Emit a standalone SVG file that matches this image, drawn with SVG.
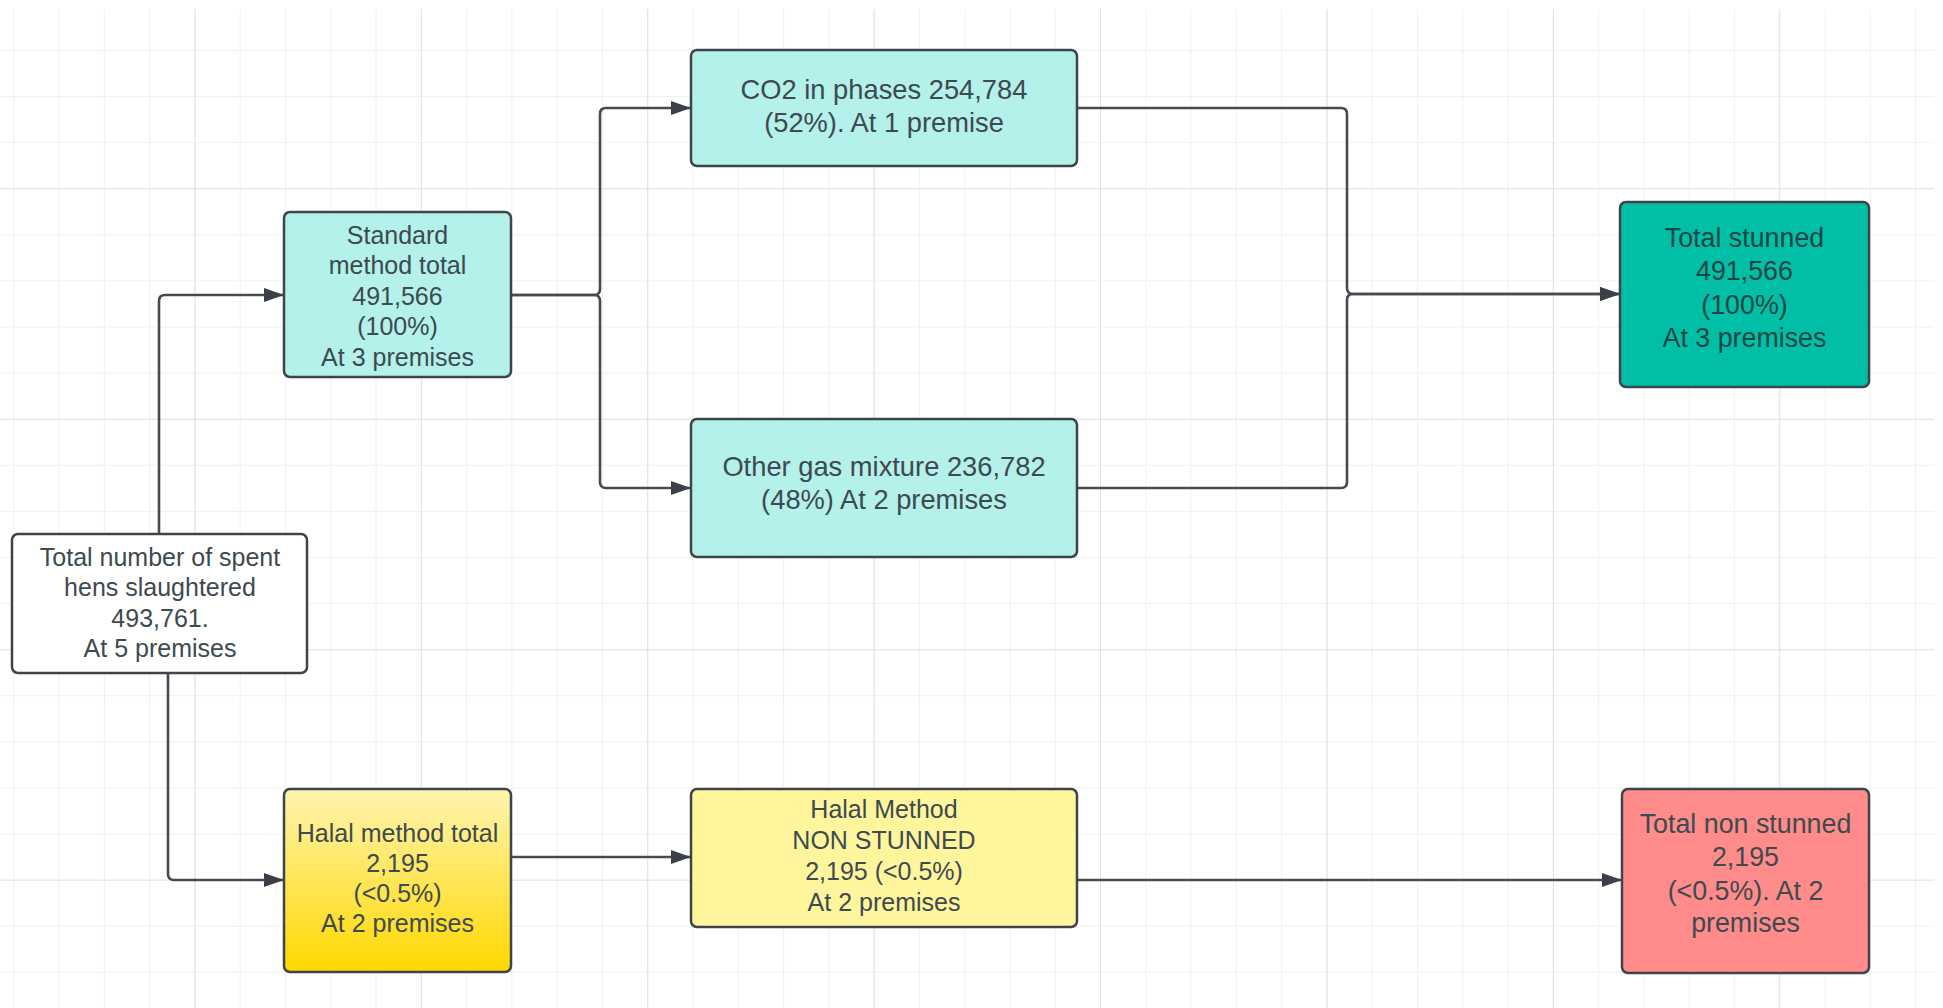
<svg xmlns="http://www.w3.org/2000/svg" width="1943" height="1008" viewBox="0 0 1943 1008">
<defs>
  <pattern id="minor" x="13.3" y="50" width="45.28" height="46.09" patternUnits="userSpaceOnUse">
    <path d="M0,0 V46.09 M0,0 H45.28" fill="none" stroke="#ebebeb" stroke-width="1.5"/>
  </pattern>
  <pattern id="major" x="194.4" y="188.3" width="226.4" height="230.45" patternUnits="userSpaceOnUse">
    <path d="M0,0 V230.45 M0,0 H226.4" fill="none" stroke="#dedede" stroke-width="1.6"/>
  </pattern>
  <linearGradient id="halalGrad" x1="0" y1="0" x2="0" y2="1">
    <stop offset="0" stop-color="#fff4b0"/>
    <stop offset="1" stop-color="#ffd800"/>
  </linearGradient>
  <marker id="arrow" markerUnits="userSpaceOnUse" markerWidth="20" markerHeight="16" viewBox="0 0 20 16" refX="20" refY="8" orient="auto">
    <path d="M0,1 L20,8 L0,15 Z" fill="#3b4048"/>
  </marker>
  <style>
    .box { stroke: #3e444b; stroke-width: 2.5; }
    .conn { fill: none; stroke: #464b52; stroke-width: 2.6; }
    .t { font-family: "Liberation Sans", Arial, sans-serif; text-anchor: middle; fill: #3d4a4f; }
    .s25 { font-size: 25px; }
    .s27 { font-size: 27.3px; }
    .s268 { font-size: 26.8px; }
  </style>
</defs>
<rect x="0" y="0" width="1943" height="1008" fill="#ffffff"/>
<rect x="0" y="9" width="1934" height="999" fill="url(#minor)"/>
<rect x="0" y="9" width="1934" height="999" fill="url(#major)"/>

<g id="connectors">
  <path class="conn" d="M159,534 V301 Q159,295 165,295 H284" marker-end="url(#arrow)"/>
  <path class="conn" d="M168,673 V874 Q168,880 174,880 H284" marker-end="url(#arrow)"/>
  <path class="conn" d="M511,295 H594 Q600,295 600,289 V114 Q600,108 606,108 H691" marker-end="url(#arrow)"/>
  <path class="conn" d="M511,295 H594 Q600,295 600,301 V482 Q600,488 606,488 H691" marker-end="url(#arrow)"/>
  <path class="conn" d="M1077,108 H1341 Q1347,108 1347,114 V288 Q1347,294 1353,294 H1620" marker-end="url(#arrow)"/>
  <path class="conn" d="M1077,488 H1341 Q1347,488 1347,482 V300 Q1347,294 1353,294 H1620" marker-end="url(#arrow)"/>
  <path class="conn" d="M511,857 H691" marker-end="url(#arrow)"/>
  <path class="conn" d="M1077,880 H1622" marker-end="url(#arrow)"/>
</g>

<g id="total">
  <rect class="box" x="12" y="534" width="295" height="139" rx="6" fill="#ffffff"/>
  <text class="t s25" x="160" y="565.5">Total number of spent</text>
  <text class="t s25" x="160" y="596">hens slaughtered</text>
  <text class="t s25" x="160" y="627">493,761.</text>
  <text class="t s25" x="160" y="657">At 5 premises</text>
</g>

<g id="standard">
  <rect class="box" x="284" y="212" width="227" height="165" rx="6" fill="#b3f1ea"/>
  <text class="t s25" x="397.5" y="243.5">Standard</text>
  <text class="t s25" x="397.5" y="274">method total</text>
  <text class="t s25" x="397.5" y="304.5">491,566</text>
  <text class="t s25" x="397.5" y="335">(100%)</text>
  <text class="t s25" x="397.5" y="366">At 3 premises</text>
</g>

<g id="co2">
  <rect class="box" x="691" y="50" width="386" height="116" rx="6" fill="#b3f1ea"/>
  <text class="t s27" x="884" y="99">CO2 in phases 254,784</text>
  <text class="t s27" x="884" y="132">(52%). At 1 premise</text>
</g>

<g id="othergas">
  <rect class="box" x="691" y="419" width="386" height="138" rx="6" fill="#b3f1ea"/>
  <text class="t s27" x="884" y="476">Other gas mixture 236,782</text>
  <text class="t s27" x="884" y="509">(48%) At 2 premises</text>
</g>

<g id="stunned">
  <rect class="box" x="1620" y="202" width="249" height="185" rx="6" fill="#00bfa6"/>
  <text class="t s268" x="1744.5" y="246.5" style="fill:#1e4645">Total stunned</text>
  <text class="t s268" x="1744.5" y="280" style="fill:#1e4645">491,566</text>
  <text class="t s268" x="1744.5" y="313.5" style="fill:#1e4645">(100%)</text>
  <text class="t s268" x="1744.5" y="347" style="fill:#1e4645">At 3 premises</text>
</g>

<g id="halaltotal">
  <rect class="box" x="284" y="789" width="227" height="183" rx="6" fill="url(#halalGrad)"/>
  <text class="t s25" x="397.5" y="842">Halal method total</text>
  <text class="t s25" x="397.5" y="872">2,195</text>
  <text class="t s25" x="397.5" y="902">(&lt;0.5%)</text>
  <text class="t s25" x="397.5" y="932">At 2 premises</text>
</g>

<g id="halalnonstunned">
  <rect class="box" x="691" y="789" width="386" height="138" rx="6" fill="#fff59d"/>
  <text class="t s25" x="884" y="818">Halal Method</text>
  <text class="t s25" x="884" y="849">NON STUNNED</text>
  <text class="t s25" x="884" y="879.5">2,195 (&lt;0.5%)</text>
  <text class="t s25" x="884" y="910.5">At 2 premises</text>
</g>

<g id="nonstunned">
  <rect class="box" x="1622" y="789" width="247" height="184" rx="6" fill="#ff8b8b"/>
  <text class="t s268" x="1745.5" y="832.5">Total non stunned</text>
  <text class="t s268" x="1745.5" y="866">2,195</text>
  <text class="t s268" x="1745.5" y="899.5">(&lt;0.5%). At 2</text>
  <text class="t s268" x="1745.5" y="932">premises</text>
</g>
</svg>
